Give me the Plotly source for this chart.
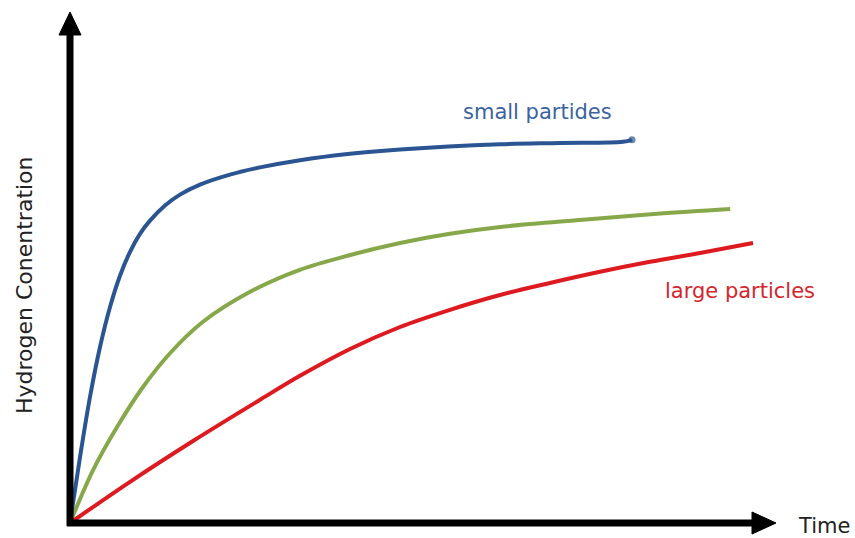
import plotly.graph_objects as go

# ---- data (time in arbitrary units, concentration in arbitrary units) ----
time_small = [0, 0.147, 0.293, 0.440, 0.587, 0.733, 0.880, 1.026, 1.173, 1.393, 1.613, 1.906, 2.346, 2.786,
              3.372, 4.106, 4.839, 6.305, 7.185, 8.109, 8.240]
conc_small = [0, 16.5, 31.5, 44.0, 54.0, 61.8, 67.8, 72.3, 75.6, 79.4, 82.1, 84.6, 87.1, 88.9,
              90.7, 92.3, 93.4, 94.7, 95.0, 95.3, 95.8]

time_mid = [0, 0.34, 0.69, 1.07, 1.47, 1.95, 2.64, 3.37, 4.11, 4.84, 5.57, 6.31, 7.52, 8.61, 9.68]
conc_mid = [0, 13.3, 24.0, 34.0, 42.5, 50.3, 57.8, 63.3, 67.0, 70.0, 72.3, 74.0, 75.8, 77.3, 78.5]

time_large = [0, 0.880, 1.804, 2.786, 3.372, 4.106, 4.839, 5.572, 6.305, 7.038, 7.771, 8.504, 9.238, 10.015]
conc_large = [0, 10.3, 20.5, 30.8, 36.8, 43.5, 49.0, 53.3, 57.0, 60.0, 62.8, 65.3, 67.5, 70.0]

label_small = "small partides"
label_large = "large particles"
x_title = "Time"
y_title = "Hydrogen Conentration"

W, H = 855, 538
def px(x):
    return x / W
def py(y):
    return 1 - y / H

end_dot = [0] * (len(time_small) - 1) + [7]

fig = go.Figure()
fig.add_trace(go.Scatter(x=time_mid, y=conc_mid, mode="lines", line=dict(color="#87A84A", width=4, shape="spline", smoothing=1), hoverinfo="skip"))
fig.add_trace(go.Scatter(x=time_large, y=conc_large, mode="lines", line=dict(color="#DD1A20", width=4, shape="spline", smoothing=1), hoverinfo="skip"))
fig.add_trace(go.Scatter(x=time_small, y=conc_small, mode="lines+markers",
                         line=dict(color="#2A5592", width=4, shape="spline", smoothing=1),
                         marker=dict(size=end_dot, color="#2A5592", line=dict(width=0)), hoverinfo="skip"))

shapes = [
    # y axis
    dict(type="line", xref="paper", yref="paper", x0=px(70), y0=py(526), x1=px(70), y1=py(30), line=dict(color="black", width=7)),
    dict(type="path", xref="paper", yref="paper",
         path=f"M {px(59)},{py(35)} L {px(70)},{py(12)} L {px(81)},{py(35)} Z", fillcolor="black", line=dict(color="black", width=1)),
    # x axis
    dict(type="line", xref="paper", yref="paper", x0=px(67), y0=py(523), x1=px(758), y1=py(523), line=dict(color="black", width=7)),
    dict(type="path", xref="paper", yref="paper",
         path=f"M {px(752)},{py(512)} L {px(776)},{py(523)} L {px(752)},{py(534)} Z", fillcolor="black", line=dict(color="black", width=1)),
]

annotations = [
    dict(text=y_title, xref="paper", yref="paper", x=px(24), y=py(285), showarrow=False, textangle=-90,
         font=dict(family="DejaVu Sans", size=22, color="#222222"), xanchor="center", yanchor="middle"),
    dict(text=x_title, xref="paper", yref="paper", x=px(824), y=py(526), showarrow=False,
         font=dict(family="DejaVu Sans", size=21, color="#222222"), xanchor="center", yanchor="middle"),
    dict(text=label_small, xref="paper", yref="paper", x=px(537), y=py(112), showarrow=False,
         font=dict(family="DejaVu Sans", size=21, color="#3A63A0"), xanchor="center", yanchor="middle"),
    dict(text=label_large, xref="paper", yref="paper", x=px(740), y=py(291), showarrow=False,
         font=dict(family="DejaVu Sans", size=21, color="#D3262C"), xanchor="center", yanchor="middle"),
]

x_unit = 68.2  # px per time unit
y_unit = 4.0   # px per concentration unit
fig.update_layout(
    width=W, height=H,
    margin=dict(l=0, r=0, t=0, b=0),
    paper_bgcolor="white", plot_bgcolor="white",
    showlegend=False,
    xaxis=dict(range=[-70 / x_unit, (W - 70) / x_unit], visible=False, fixedrange=True),
    yaxis=dict(range=[-(H - 523) / y_unit, 523 / y_unit], visible=False, fixedrange=True),
    shapes=shapes,
    annotations=annotations,
)

fig.write_html("out.html", config={"displayModeBar": False},
               post_script="document.body.style.margin='0';document.body.style.overflow='hidden';")
